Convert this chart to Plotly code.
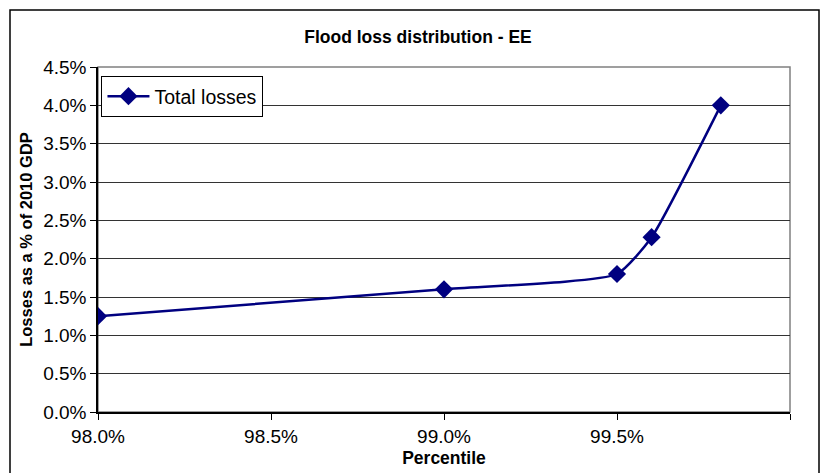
import plotly.graph_objects as go

# data
percentile = [98.0, 99.0, 99.5, 99.6, 99.8]
total_losses = [1.25, 1.6, 1.8, 2.28, 4.0]

x_ticks = [98.0, 98.5, 99.0, 99.5, 100.0]
y_ticks = [0.0, 0.5, 1.0, 1.5, 2.0, 2.5, 3.0, 3.5, 4.0, 4.5]

W, H = 822, 473
L, R, T, B = 98, 32, 67, 61
pw, ph = W - L - R, H - T - B

fig = go.Figure()
fig.add_trace(go.Scatter(
    x=percentile, y=total_losses,
    mode="lines+markers",
    name="Total losses",
    line=dict(color="#000080", width=2.5, shape="spline", smoothing=0.5),
    marker=dict(symbol="diamond", size=14, color="#000080"),
))

# plot area border and outer chart border
fig.add_shape(type="rect", xref="paper", yref="paper", x0=0, x1=1, y0=0, y1=1,
              line=dict(color="#808080", width=1.5), layer="below")
fig.add_shape(type="rect", xref="paper", yref="paper",
              x0=(10 - L) / pw, x1=(819 - L) / pw,
              y0=-(B + 5) / ph, y1=(ph + T - 10) / ph,
              line=dict(color="black", width=1.5))

font = "Liberation Sans, Arial, sans-serif"
fig.update_layout(
    width=W, height=H,
    margin=dict(l=L, r=R, t=T, b=B),
    paper_bgcolor="white", plot_bgcolor="white",
    font=dict(family=font, size=19, color="black"),
    title=dict(text="<b>Flood loss distribution - EE</b>", xref="container", x=418 / W,
               xanchor="center", y=1 - 37 / H, yanchor="middle", font=dict(size=17.5)),
    xaxis=dict(
        range=[98.0, 100.0], tickvals=x_ticks,
        ticktext=[f"{v:.1f}%" for v in x_ticks],
        showgrid=False, showline=True, linecolor="black", linewidth=1.5,
        ticks="outside", ticklen=6, tickcolor="black",
        title=dict(text="<b>Percentile</b>", standoff=6, font=dict(size=17.5)),
        zeroline=False, automargin=False,
    ),
    yaxis=dict(
        range=[0, 4.5], tickvals=y_ticks,
        ticktext=[f"{v:.1f}%" for v in y_ticks],
        showgrid=True, gridcolor="#333333", gridwidth=1,
        showline=True, linecolor="black", linewidth=1.5,
        ticks="outside", ticklen=6, tickcolor="black",
        title=dict(text="<b>Losses as a % of 2010 GDP</b>", standoff=6, font=dict(size=16.5)),
        zeroline=False, automargin=False,
    ),
    legend=dict(x=0.005, y=0.974, xanchor="left", yanchor="top",
                bgcolor="white", bordercolor="black", borderwidth=1,
                itemwidth=42, font=dict(size=19.5)),
    showlegend=True,
)

# drop the browser's default page margin so the figure sits at (0, 0)
fig.write_html("out.html", config={"displayModeBar": False},
               post_script="document.body.style.margin='0';")
